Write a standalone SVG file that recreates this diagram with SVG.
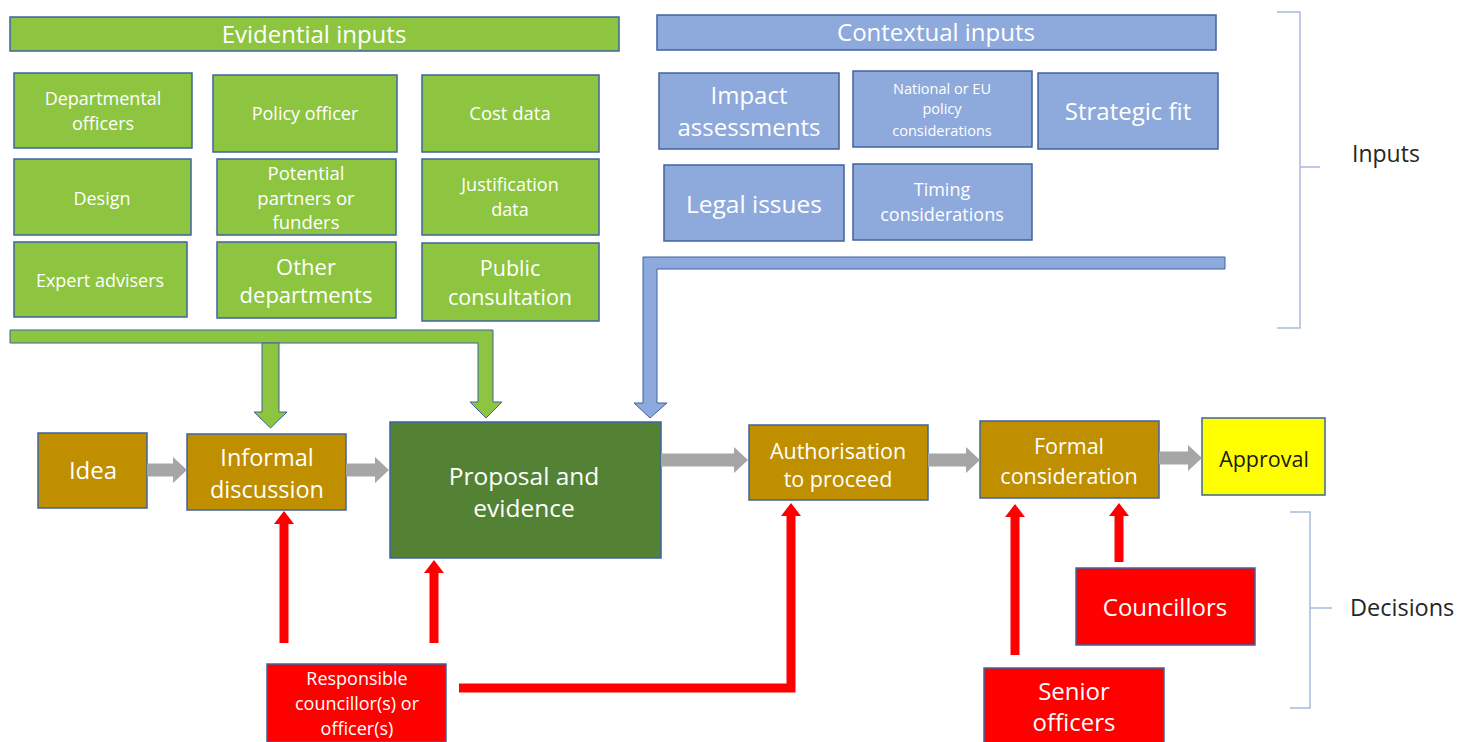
<svg xmlns="http://www.w3.org/2000/svg" width="1479" height="742" viewBox="0 0 1479 742">
<style>
.ev{fill:#8DC540;stroke:#3F63A0;stroke-width:1.5}
.ctx{fill:#8EA9DB;stroke:#3F63A0;stroke-width:1.5}
.gold{fill:#BF8F00;stroke:#3F63A0;stroke-width:1.5}
.dg{fill:#548235;stroke:#3F63A0;stroke-width:1.5}
.red{fill:#FF0000;stroke:#3F63A0;stroke-width:1.5}
.yel{fill:#FFFF00;stroke:#3F63A0;stroke-width:1.5}
text{font-family:"Open Sans",Lato,sans-serif;text-anchor:middle;fill:#FFFFFF}
.lbl{fill:#262626;text-anchor:start}
.gray{fill:#A6A6A6}
.green{fill:#8DC540;stroke:#3F63A0;stroke-width:1}
.blue{fill:#8EA9DB;stroke:#3F63A0;stroke-width:1}
.rl{fill:none;stroke:#FF0000;stroke-width:9}
.rh{fill:#FF0000}
.br{fill:none;stroke:#A9B8DA;stroke-width:1.5}
</style>

<g id="evidential-inputs">
<rect class="ev" x="10" y="17" width="609" height="34"/>
<text x="314" y="43" font-size="24">Evidential inputs</text>
</g>
<g id="departmental-officers">
<rect class="ev" x="14" y="73" width="178" height="75"/>
<text x="103" y="105" font-size="18">Departmental</text>
<text x="103" y="130" font-size="18">officers</text>
</g>
<g id="policy-officer">
<rect class="ev" x="213" y="75" width="184" height="77"/>
<text x="305" y="120" font-size="18">Policy officer</text>
</g>
<g id="cost-data">
<rect class="ev" x="422" y="75" width="177" height="77"/>
<text x="510" y="120" font-size="18.5">Cost data</text>
</g>
<g id="design">
<rect class="ev" x="14" y="159" width="177" height="76"/>
<text x="102" y="205" font-size="18">Design</text>
</g>
<g id="potential-partners">
<rect class="ev" x="217" y="159" width="179" height="76"/>
<text x="306" y="180" font-size="18.5">Potential</text>
<text x="306" y="205" font-size="18.5">partners or</text>
<text x="306" y="229" font-size="18.5">funders</text>
</g>
<g id="justification-data">
<rect class="ev" x="422" y="159" width="177" height="76"/>
<text x="510" y="191" font-size="18">Justification</text>
<text x="510" y="216" font-size="18">data</text>
</g>
<g id="expert-advisers">
<rect class="ev" x="14" y="242" width="173" height="75"/>
<text x="100" y="287" font-size="18">Expert advisers</text>
</g>
<g id="other-departments">
<rect class="ev" x="217" y="242" width="179" height="76"/>
<text x="306" y="275" font-size="22">Other</text>
<text x="306" y="303" font-size="22">departments</text>
</g>
<g id="public-consultation">
<rect class="ev" x="422" y="243" width="177" height="78"/>
<text x="510" y="276" font-size="21.5">Public</text>
<text x="510" y="305" font-size="21.5">consultation</text>
</g>

<g id="contextual-inputs">
<rect class="ctx" x="657" y="15" width="559" height="35"/>
<text x="936" y="41" font-size="24">Contextual inputs</text>
</g>
<g id="impact-assessments">
<rect class="ctx" x="659" y="73" width="180" height="76"/>
<text x="749" y="104" font-size="24">Impact</text>
<text x="749" y="136" font-size="24">assessments</text>
</g>
<g id="national-eu-policy">
<rect class="ctx" x="853" y="71" width="179" height="76"/>
<text x="942" y="94" font-size="14.5">National or EU</text>
<text x="942" y="114" font-size="14.5">policy</text>
<text x="942" y="136" font-size="14.5">considerations</text>
</g>
<g id="strategic-fit">
<rect class="ctx" x="1038" y="73" width="180" height="76"/>
<text x="1128" y="120" font-size="24">Strategic fit</text>
</g>
<g id="legal-issues">
<rect class="ctx" x="664" y="165" width="180" height="76"/>
<text x="754" y="213" font-size="24.5">Legal issues</text>
</g>
<g id="timing-considerations">
<rect class="ctx" x="853" y="164" width="179" height="76"/>
<text x="942" y="196" font-size="18">Timing</text>
<text x="942" y="221" font-size="18">considerations</text>
</g>

<g id="idea">
<rect class="gold" x="38" y="433" width="109" height="75"/>
<text x="93" y="479" font-size="24">Idea</text>
</g>
<g id="informal-discussion">
<rect class="gold" x="187" y="434" width="159" height="76"/>
<text x="267" y="466" font-size="23.5">Informal</text>
<text x="267" y="498" font-size="23.5">discussion</text>
</g>
<g id="proposal-evidence">
<rect class="dg" x="390" y="422" width="271" height="136"/>
<text x="524" y="485" font-size="24.5">Proposal and</text>
<text x="524" y="517" font-size="24.5">evidence</text>
</g>
<g id="authorisation">
<rect class="gold" x="749" y="425" width="179" height="75"/>
<text x="838" y="459" font-size="21.5">Authorisation</text>
<text x="838" y="487" font-size="21.5">to proceed</text>
</g>
<g id="formal-consideration">
<rect class="gold" x="980" y="421" width="179" height="77"/>
<text x="1069" y="454" font-size="21.5">Formal</text>
<text x="1069" y="484" font-size="21.5">consideration</text>
</g>
<g id="approval">
<rect class="yel" x="1202" y="418" width="123" height="77"/>
<text x="1264" y="467" font-size="21.5" style="fill:#1A1A1A">Approval</text>
</g>
<g id="responsible">
<rect class="red" x="267" y="664" width="179" height="78"/>
<text x="357" y="685" font-size="18">Responsible</text>
<text x="357" y="710" font-size="18">councillor(s) or</text>
<text x="357" y="735" font-size="18">officer(s)</text>
</g>
<g id="councillors">
<rect class="red" x="1076" y="568" width="179" height="77"/>
<text x="1165" y="616" font-size="24">Councillors</text>
</g>
<g id="senior-officers">
<rect class="red" x="984" y="668" width="180" height="78"/>
<text x="1074" y="700" font-size="24">Senior</text>
<text x="1074" y="731" font-size="24">officers</text>
</g>

<g id="inputs-label">
<path class="br" d="M1277,12 H1300 V328 H1277 M1300,167 H1320"/>
<text class="lbl" x="1352" y="162" font-size="23">Inputs</text>
</g>
<g id="decisions-label">
<path class="br" d="M1290,512 H1310 V708 H1290 M1310,608 H1332"/>
<text class="lbl" x="1350" y="616" font-size="23.5">Decisions</text>
</g>

<g id="connectors">
<polygon class="green" points="10,330 493,330 493,402 502,402 486,418 470,402 478,402 478,343 10,343"/>
<polygon class="green" points="262,343 279,343 279,412 287,412 270.5,428 254,412 262,412"/>
<polygon class="blue" points="643,257 1225,257 1225,269 657,269 657,403 667,403 650,418 634,403 643,403"/>

<polygon class="gray" points="147,463.5 173,463.5 173,457 187,470 173,483 173,476.5 147,476.5"/>
<polygon class="gray" points="346,463.5 375,463.5 375,457 389,470 375,483 375,476.5 346,476.5"/>
<polygon class="gray" points="661,453.5 734,453.5 734,447 748,460 734,473 734,466.5 661,466.5"/>
<polygon class="gray" points="928,453.5 966,453.5 966,447 980,460 966,473 966,466.5 928,466.5"/>
<polygon class="gray" points="1159,451.5 1188,451.5 1188,445 1202,458 1188,471 1188,464.5 1159,464.5"/>

<line class="rl" x1="284" y1="643" x2="284" y2="522"/>
<polygon class="rh" points="274,524 294,524 284,511"/>
<line class="rl" x1="434" y1="643" x2="434" y2="571"/>
<polygon class="rh" points="424,573 444,573 434,560"/>
<polyline class="rl" points="459,688 791,688 791,514"/>
<polygon class="rh" points="781,516 801,516 791,503"/>
<line class="rl" x1="1015" y1="655" x2="1015" y2="515"/>
<polygon class="rh" points="1005,517 1025,517 1015,504"/>
<line class="rl" x1="1119" y1="562" x2="1119" y2="514"/>
<polygon class="rh" points="1109,516 1129,516 1119,503"/>
</g>
</svg>
